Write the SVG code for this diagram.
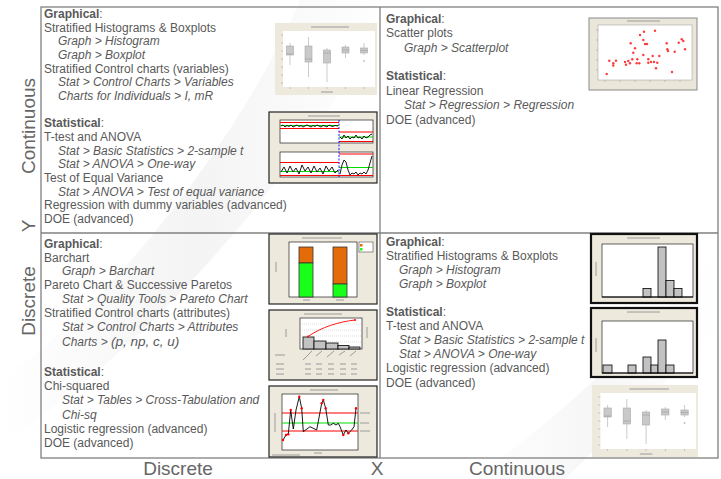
<svg xmlns="http://www.w3.org/2000/svg" width="721" height="479" viewBox="0 0 721 479">
<defs>
<style>
.t{font-family:"Liberation Sans",Arial,sans-serif;font-size:12px;fill:#595959}
.i{font-style:italic}
.b{font-weight:bold}
.ax{font-family:"Liberation Sans",Arial,sans-serif;font-size:19px;fill:#666}
.frame{fill:#eee9dd}
.dk{stroke:#222;stroke-width:1.2}
.hv{stroke:#111;stroke-width:2.2}
.plot{fill:#fff}
.pb{stroke:#222;stroke-width:0.7}
.bx{fill:#c9c9c9;stroke:#a9a9a9;stroke-width:0.6}
.wh{stroke:#b5b5b5;stroke-width:0.7}
.hb{fill:#c2c2c2;stroke:#000;stroke-width:0.8}
.red{stroke:#f00;stroke-width:1.1}
.grn{stroke:#0d0;stroke-width:1.1}
.blk{fill:none;stroke:#000;stroke-width:0.9}
.tk{stroke:#999;stroke-width:0.5}
.hint{stroke:#9a9a9a;stroke-width:1}
.dot{fill:#ff3b3b}
.grid{stroke:#aaa;stroke-width:0.4;stroke-dasharray:1 1}
</style>
<linearGradient id="sw" x1="0" y1="0" x2="1" y2="0">
<stop offset="0" stop-color="#fff"/>
<stop offset="0.5" stop-color="#e9e9e9"/>
<stop offset="1" stop-color="#fff"/>
</linearGradient>
<g id="boxplot">
<rect class="frame" width="102" height="72" fill="#efeadf"/>
<rect class="plot" x="8" y="8" width="92" height="56"/>
<line class="hint" x1="36" y1="4" x2="74" y2="4" stroke-width="0.8"/>
<g class="tk">
<line x1="6" y1="12" x2="8" y2="12"/><line x1="6" y1="20" x2="8" y2="20"/><line x1="6" y1="28" x2="8" y2="28"/><line x1="6" y1="36" x2="8" y2="36"/><line x1="6" y1="44" x2="8" y2="44"/><line x1="6" y1="52" x2="8" y2="52"/><line x1="6" y1="60" x2="8" y2="60"/>
<line x1="15" y1="64" x2="15" y2="66"/><line x1="33.5" y1="64" x2="33.5" y2="66"/><line x1="52" y1="64" x2="52" y2="66"/><line x1="70.5" y1="64" x2="70.5" y2="66"/><line x1="89" y1="64" x2="89" y2="66"/>
</g>
<line class="hint" x1="46" y1="69" x2="58" y2="69" stroke-width="0.8"/>
<g class="wh">
<line x1="15" y1="20" x2="15" y2="42"/><line x1="33.5" y1="14" x2="33.5" y2="54"/><line x1="52" y1="25" x2="52" y2="59"/><line x1="70.5" y1="22" x2="70.5" y2="35"/><line x1="89" y1="20" x2="89" y2="32"/>
</g>
<rect class="bx" x="11.5" y="23" width="7" height="9"/>
<rect class="bx" x="30" y="23" width="7" height="16"/>
<rect class="bx" x="48.5" y="27" width="7" height="13"/>
<rect class="bx" x="67" y="24" width="7" height="6"/>
<rect class="bx" x="85.5" y="25" width="7" height="5"/>
<g stroke="#9a9a9a" stroke-width="0.6">
<line x1="11.5" y1="31" x2="18.5" y2="31"/><line x1="30" y1="36" x2="37" y2="36"/><line x1="48.5" y1="30" x2="55.5" y2="30"/><line x1="67" y1="27" x2="74" y2="27"/><line x1="85.5" y1="27.5" x2="92.5" y2="27.5"/>
</g>
<circle cx="89" cy="38" r="0.8" fill="#999"/>
</g>
</defs>

<g id="background">
<rect width="721" height="479" fill="#fff"/>
<path d="M300,0 C250,120 120,300 0,380 L0,445 C160,340 310,160 395,0 Z" fill="url(#sw)" opacity="0.5"/>
<path d="M721,250 C650,330 560,420 470,479 L565,479 C625,420 690,360 721,322 Z" fill="url(#sw)" opacity="0.4"/>
</g>

<g id="matrix">
<rect x="41" y="7" width="677" height="451" fill="none" stroke="#808080" stroke-width="1.3"/>
<line x1="380" y1="7" x2="380" y2="458" stroke="#808080" stroke-width="1.3"/>
<line x1="41" y1="233" x2="718" y2="233" stroke="#808080" stroke-width="1.3"/>
</g>

<g id="axis-labels" class="ax">
<text transform="translate(35,126) rotate(-90)" text-anchor="middle">Continuous</text>
<text transform="translate(35,226) rotate(-90)" text-anchor="middle">Y</text>
<text transform="translate(35,301) rotate(-90)" text-anchor="middle">Discrete</text>
<text x="178" y="475" text-anchor="middle">Discrete</text>
<text x="377" y="475" text-anchor="middle">X</text>
<text x="517" y="475" text-anchor="middle">Continuous</text>
</g>

<g id="cell-continuous-y-discrete-x" class="t">
<text x="44" y="18"><tspan class="b">Graphical</tspan>:</text>
<text x="44" y="31.7">Stratified Histograms &amp; Boxplots</text>
<text x="58" y="45.3" class="i">Graph &gt; Histogram</text>
<text x="58" y="59" class="i">Graph &gt; Boxplot</text>
<text x="44" y="72.7">Stratified Control charts (variables)</text>
<text x="58" y="86.3" class="i">Stat &gt; Control Charts &gt; Variables</text>
<text x="58" y="100" class="i">Charts for Individuals &gt; I, mR</text>
<text x="44" y="127.3"><tspan class="b">Statistical</tspan>:</text>
<text x="44" y="141">T-test and ANOVA</text>
<text x="58" y="154.7" class="i">Stat &gt; Basic Statistics &gt; 2-sample t</text>
<text x="58" y="168.3" class="i">Stat &gt; ANOVA &gt; One-way</text>
<text x="44" y="182">Test of Equal Variance</text>
<text x="58" y="195.7" class="i">Stat &gt; ANOVA &gt; Test of equal variance</text>
<text x="44" y="209.3">Regression with dummy variables (advanced)</text>
<text x="44" y="223">DOE (advanced)</text>
</g>

<g id="cell-continuous-y-continuous-x" class="t">
<text x="386" y="22.5"><tspan class="b">Graphical</tspan>:</text>
<text x="386" y="37">Scatter plots</text>
<text x="404" y="51.5" class="i">Graph &gt; Scatterplot</text>
<text x="386" y="80"><tspan class="b">Statistical</tspan>:</text>
<text x="386" y="94.5">Linear Regression</text>
<text x="404" y="109" class="i">Stat &gt; Regression &gt; Regression</text>
<text x="386" y="123.5">DOE (advanced)</text>
</g>

<g id="cell-discrete-y-discrete-x" class="t">
<text x="44" y="248"><tspan class="b">Graphical</tspan>:</text>
<text x="44" y="261.5">Barchart</text>
<text x="62" y="275" class="i">Graph &gt; Barchart</text>
<text x="44" y="289">Pareto Chart &amp; Successive Paretos</text>
<text x="62" y="303" class="i">Stat &gt; Quality Tools &gt; Pareto Chart</text>
<text x="44" y="317">Stratified Control charts (attributes)</text>
<text x="62" y="331" class="i">Stat &gt; Control Charts &gt; Attributes</text>
<text x="62" y="345.5" class="i">Charts &gt; <tspan style="font-size:13.5px">(p, np, c, u)</tspan></text>
<text x="44" y="376"><tspan class="b">Statistical</tspan>:</text>
<text x="44" y="390">Chi-squared</text>
<text x="62" y="404" class="i">Stat &gt; Tables &gt; Cross-Tabulation and</text>
<text x="62" y="418.5" class="i">Chi-sq</text>
<text x="44" y="432.5">Logistic regression (advanced)</text>
<text x="44" y="446.5">DOE (advanced)</text>
</g>

<g id="cell-discrete-y-continuous-x" class="t">
<text x="386" y="246"><tspan class="b">Graphical</tspan>:</text>
<text x="386" y="260">Stratified Histograms &amp; Boxplots</text>
<text x="399" y="274" class="i">Graph &gt; Histogram</text>
<text x="399" y="288" class="i">Graph &gt; Boxplot</text>
<text x="386" y="316"><tspan class="b">Statistical</tspan>:</text>
<text x="386" y="330">T-test and ANOVA</text>
<text x="399" y="344" class="i">Stat &gt; Basic Statistics &gt; 2-sample t</text>
<text x="399" y="358" class="i">Stat &gt; ANOVA &gt; One-way</text>
<text x="386" y="372">Logistic regression (advanced)</text>
<text x="386" y="386.5">DOE (advanced)</text>
</g>

<g id="chart-boxplot-1">
<use href="#boxplot" transform="translate(275,23)"/>
</g>

<g id="chart-imr">
<rect class="frame dk" x="269" y="112" width="108" height="71"/>
<line class="hint" x1="308" y1="116" x2="340" y2="116" stroke="#555" stroke-width="0.9"/>
<rect class="plot pb" x="280" y="120" width="93" height="23"/>
<rect class="plot pb" x="280" y="152" width="93" height="25"/>
<g class="red">
<line x1="280" y1="122.5" x2="339" y2="122.5"/><line x1="280" y1="128.5" x2="339" y2="128.5"/>
<line x1="339" y1="132" x2="373" y2="132"/><line x1="339" y1="141.5" x2="373" y2="141.5"/>
<line x1="280" y1="162.5" x2="339" y2="162.5"/><line x1="339" y1="154" x2="373" y2="154"/>
<line x1="280" y1="175.5" x2="373" y2="175.5"/>
</g>
<g class="grn">
<line x1="280" y1="125.5" x2="339" y2="125.5"/><line x1="339" y1="137" x2="373" y2="137"/>
<line x1="280" y1="171.5" x2="339" y2="171.5"/><line x1="339" y1="167.5" x2="373" y2="167.5"/>
</g>
<path class="blk" d="M281,126 L283,125 L285,127 L287,125.5 L289,126.5 L291,125 L293,127 L295,126 L297,125 L299,126.5 L301,125.5 L303,127 L305,126 L307,125 L309,126 L311,127 L313,125.5 L315,126.5 L317,125 L319,126 L321,127 L323,125.5 L325,126 L327,127 L329,125 L331,126 L333,126.5 L335,125.5 L338,126"/>
<path class="blk" d="M340,137 L342,139 L344,135 L346,138 L348,136 L350,139 L352,137 L354,138 L356,135 L358,138 L360,137 L362,139 L364,136 L366,138 L368,137 L370,135 L372,134"/>
<path class="blk" d="M281,172 L284,167 L287,173 L290,166 L293,172 L296,168 L299,174 L302,165 L305,171 L308,167 L311,173 L314,166 L317,172 L320,168 L323,174 L326,166 L329,171 L332,167 L335,173 L338,170"/>
<path class="blk" d="M340,174 L342,165 L344,160 L346,162 L348,170 L350,175 L352,173 L354,174 L356,172 L358,175 L360,173 L362,174 L364,172 L366,174 L368,170 L370,163 L372,156"/>
<line x1="339" y1="120" x2="339" y2="177" stroke="#00f" stroke-width="0.9" stroke-dasharray="2 1.5"/>
</g>

<g id="chart-scatter">
<rect x="589" y="18" width="108" height="72" fill="#ebe6da" stroke="#8a8a8a" stroke-width="1"/>
<line class="hint" x1="627" y1="21" x2="660" y2="21" stroke-width="0.8"/>
<rect class="plot" x="598" y="25" width="94" height="55" stroke="#999" stroke-width="0.5"/>
<g class="dot">
<circle cx="606.7" cy="74" r="1.2"/><circle cx="609.3" cy="60.7" r="1.2"/><circle cx="613.3" cy="63.3" r="1.2"/><circle cx="613.3" cy="65.5" r="1.2"/><circle cx="616" cy="60.7" r="1.2"/><circle cx="625" cy="62" r="1.2"/><circle cx="626" cy="64.7" r="1.2"/><circle cx="628.3" cy="61" r="1.2"/><circle cx="630" cy="63.3" r="1.2"/><circle cx="630.7" cy="43.3" r="1.2"/><circle cx="632.3" cy="59.3" r="1.2"/><circle cx="633.3" cy="52.7" r="1.2"/><circle cx="635" cy="48.3" r="1.2"/><circle cx="636.7" cy="63.3" r="1.2"/><circle cx="637.3" cy="59.3" r="1.2"/><circle cx="639.3" cy="63.3" r="1.2"/><circle cx="640" cy="35" r="1.2"/><circle cx="643.3" cy="40" r="1.2"/><circle cx="644" cy="31.7" r="1.2"/><circle cx="645" cy="44" r="1.2"/><circle cx="647" cy="44" r="1.2"/><circle cx="643.3" cy="55" r="1.2"/><circle cx="648.3" cy="59.3" r="1.2"/><circle cx="648.3" cy="62.7" r="1.2"/><circle cx="651" cy="62" r="1.2"/><circle cx="652.7" cy="56" r="1.2"/><circle cx="654" cy="62" r="1.2"/><circle cx="655" cy="30.7" r="1.2"/><circle cx="656" cy="68.3" r="1.2"/><circle cx="657.3" cy="62.7" r="1.2"/><circle cx="659.3" cy="56" r="1.2"/><circle cx="666.7" cy="43.3" r="1.2"/><circle cx="667.3" cy="49.3" r="1.2"/><circle cx="668" cy="51" r="1.2"/><circle cx="672" cy="72" r="1.2"/><circle cx="674.7" cy="51.7" r="1.2"/><circle cx="678.7" cy="42.7" r="1.2"/><circle cx="681.7" cy="39.3" r="1.2"/><circle cx="683.3" cy="41" r="1.2"/><circle cx="685" cy="49.3" r="1.2"/>
</g>
<g class="tk">
<line x1="596" y1="30" x2="598" y2="30"/><line x1="596" y1="40" x2="598" y2="40"/><line x1="596" y1="50" x2="598" y2="50"/><line x1="596" y1="60" x2="598" y2="60"/><line x1="596" y1="70" x2="598" y2="70"/>
<line x1="605" y1="80" x2="605" y2="82"/><line x1="620" y1="80" x2="620" y2="82"/><line x1="635" y1="80" x2="635" y2="82"/><line x1="650" y1="80" x2="650" y2="82"/><line x1="665" y1="80" x2="665" y2="82"/><line x1="680" y1="80" x2="680" y2="82"/>
</g>
</g>

<g id="chart-barchart">
<rect class="frame dk" x="269" y="234" width="108" height="70"/>
<line class="hint" x1="302" y1="238" x2="342" y2="238" stroke="#555" stroke-width="0.9"/>
<rect class="plot pb" x="289" y="242" width="68" height="55"/>
<rect x="299" y="247" width="14" height="16" fill="#e36c09" stroke="#333" stroke-width="0.8"/>
<rect x="299" y="263" width="14" height="34" fill="#1aff1a" stroke="#333" stroke-width="0.8"/>
<rect x="333" y="247" width="14" height="37" fill="#e36c09" stroke="#333" stroke-width="0.8"/>
<rect x="333" y="284" width="14" height="13" fill="#1aff1a" stroke="#333" stroke-width="0.8"/>
<rect x="359" y="242" width="14" height="10" fill="#fff" stroke="#333" stroke-width="0.5"/>
<rect x="360" y="244" width="2.5" height="2.5" fill="#e36c09"/>
<rect x="360" y="248" width="2.5" height="2.5" fill="#1aff1a"/>
<line class="hint" x1="276" y1="262" x2="276" y2="272" stroke-width="0.8"/>
<line class="hint" x1="303" y1="300" x2="310" y2="300" stroke-width="0.7"/>
<line class="hint" x1="336" y1="300" x2="344" y2="300" stroke-width="0.7"/>
</g>

<g id="chart-pareto">
<rect class="frame dk" x="269" y="310" width="108" height="70"/>
<line class="hint" x1="304" y1="314" x2="342" y2="314" stroke="#555" stroke-width="0.9"/>
<rect class="plot pb" x="300" y="318" width="62" height="31"/>
<g class="grid">
<line x1="300" y1="324" x2="362" y2="324"/><line x1="300" y1="330" x2="362" y2="330"/><line x1="300" y1="336" x2="362" y2="336"/><line x1="300" y1="342" x2="362" y2="342"/>
</g>
<rect class="hb" x="303" y="337" width="11" height="12" stroke="#333"/>
<rect class="hb" x="314" y="341" width="12" height="8" stroke="#333"/>
<rect class="hb" x="326" y="343" width="12" height="6" stroke="#333"/>
<rect class="hb" x="338" y="345.5" width="11" height="3.5" stroke="#333"/>
<rect class="hb" x="349" y="347" width="11" height="2" stroke="#333"/>
<path d="M308,336.5 C322,327 338,322 355,320" fill="none" stroke="#f00" stroke-width="0.9"/>
<circle cx="308" cy="336.5" r="1" fill="#f00"/><circle cx="355" cy="320" r="1" fill="#f00"/>
<line class="hint" x1="286" y1="329" x2="286" y2="337" stroke-width="0.8"/>
<line class="hint" x1="367" y1="327" x2="367" y2="338" stroke-width="0.8"/>
<g class="hint" stroke-width="0.7">
<line x1="303" y1="360" x2="312" y2="351"/><line x1="316" y1="356" x2="322" y2="351"/><line x1="327" y1="357" x2="334" y2="351"/><line x1="339" y1="355" x2="345" y2="351"/><line x1="350" y1="356" x2="356" y2="351"/>
<line x1="275" y1="355" x2="285" y2="355"/>
<line x1="276" y1="364" x2="284" y2="364"/><line x1="276" y1="369" x2="284" y2="369"/><line x1="276" y1="374" x2="284" y2="374"/>
<line x1="305" y1="364" x2="311" y2="364"/><line x1="316" y1="364" x2="322" y2="364"/><line x1="328" y1="364" x2="334" y2="364"/><line x1="340" y1="364" x2="346" y2="364"/><line x1="351" y1="364" x2="357" y2="364"/>
<line x1="305" y1="369" x2="311" y2="369"/><line x1="316" y1="369" x2="322" y2="369"/><line x1="328" y1="369" x2="334" y2="369"/><line x1="340" y1="369" x2="346" y2="369"/><line x1="351" y1="369" x2="357" y2="369"/>
<line x1="305" y1="374" x2="311" y2="374"/><line x1="316" y1="374" x2="322" y2="374"/><line x1="328" y1="374" x2="334" y2="374"/><line x1="340" y1="374" x2="346" y2="374"/><line x1="351" y1="374" x2="357" y2="374"/>
</g>
</g>

<g id="chart-u">
<rect class="frame dk" x="269" y="386" width="108" height="71"/>
<line class="hint" x1="310" y1="390" x2="338" y2="390" stroke="#555" stroke-width="0.9"/>
<rect class="plot pb" x="282" y="394" width="76" height="56"/>
<line class="red" x1="282" y1="413" x2="358" y2="413"/>
<line class="red" x1="282" y1="431" x2="358" y2="431"/>
<line class="grn" x1="282" y1="423" x2="358" y2="423"/>
<path class="blk" stroke-width="1.1" d="M283,440 L286,435 L288.3,434.3 L290.7,410 L293.3,429 L296,410 L299.3,396.7 L301.7,408.3 L303.3,431.7 L310,426.7 L316.7,430 L321.7,403.3 L323.3,400 L325.7,408.3 L328.3,425 L330.7,425 L333.3,423.3 L336,425 L338.3,423.3 L340,426.7 L343.3,435 L346,430 L348.3,433.3 L351.7,430 L354,426.7 L356,408.3"/>
<g fill="#f00">
<circle cx="283" cy="440" r="1.2"/><circle cx="286" cy="435" r="1.2"/><circle cx="288.3" cy="434.3" r="1.2"/><circle cx="290.7" cy="410" r="1.2"/><circle cx="299.3" cy="396.7" r="1.2"/><circle cx="301.7" cy="408.3" r="1.2"/><circle cx="321.7" cy="403.3" r="1.2"/><circle cx="323.3" cy="400" r="1.2"/><circle cx="325.7" cy="408.3" r="1.2"/><circle cx="343.3" cy="435" r="1.2"/><circle cx="348.3" cy="433.3" r="1.2"/><circle cx="356" cy="408.3" r="1.2"/>
</g>
<line class="hint" x1="275" y1="413" x2="275" y2="432" stroke-width="0.8"/>
<line class="hint" x1="314" y1="453" x2="322" y2="453" stroke-width="0.7"/>
<line class="hint" x1="272" y1="455" x2="300" y2="455" stroke-width="0.6"/>
<g class="hint" stroke-width="0.6"><line x1="360" y1="413" x2="370" y2="413"/><line x1="360" y1="423" x2="369" y2="423"/><line x1="360" y1="431" x2="370" y2="431"/></g>
</g>

<g id="chart-histogram-1">
<rect class="frame hv" x="591" y="234" width="106" height="69"/>
<line class="hint" x1="627" y1="238" x2="660" y2="238" stroke="#555" stroke-width="0.9"/>
<rect class="plot pb" x="602" y="244" width="91" height="53"/>
<rect class="hb" x="643" y="288.5" width="8" height="8.5"/>
<rect class="hb" x="658" y="247" width="8" height="50"/>
<rect class="hb" x="666" y="280.5" width="8" height="16.5"/>
<rect class="hb" x="674" y="288.5" width="8" height="8.5"/>
<line x1="602" y1="297" x2="693" y2="297" stroke="#000" stroke-width="1"/>
<line class="hint" x1="596" y1="262" x2="596" y2="276" stroke-width="0.8"/>
</g>

<g id="chart-histogram-2">
<rect class="frame hv" x="591" y="308" width="106" height="69"/>
<line class="hint" x1="627" y1="312" x2="660" y2="312" stroke="#555" stroke-width="0.9"/>
<rect class="plot pb" x="602" y="321" width="91" height="52"/>
<rect class="hb" x="603" y="365" width="9" height="8"/>
<rect class="hb" x="628" y="365" width="8" height="8"/>
<rect class="hb" x="643" y="357" width="8" height="16"/>
<rect class="hb" x="651" y="365" width="7" height="8"/>
<rect class="hb" x="658" y="340" width="8" height="33"/>
<rect class="hb" x="666" y="365" width="8" height="8"/>
<line x1="602" y1="373" x2="693" y2="373" stroke="#000" stroke-width="1"/>
<line class="hint" x1="596" y1="338" x2="596" y2="352" stroke-width="0.8"/>
</g>

<g id="chart-boxplot-2">
<use href="#boxplot" transform="translate(592,385) scale(1.04,1)"/>
</g>
</svg>
